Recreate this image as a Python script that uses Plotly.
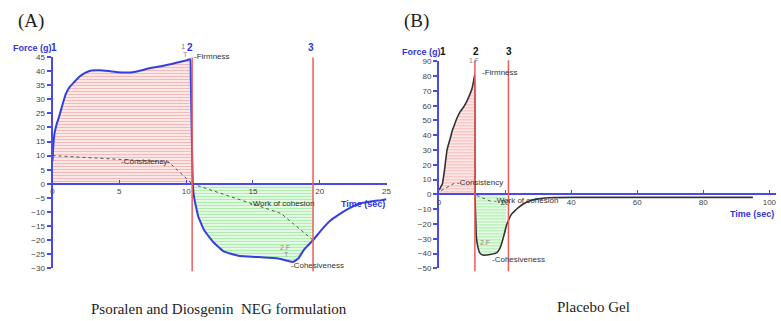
import plotly.graph_objects as go

# ---- Panel A: Psoralen and Diosgenin NEG formulation ----
A_time = [0, 0.05, 0.15, 0.3, 0.5, 0.8, 1.0, 1.3, 1.6, 2.0, 2.4, 2.9, 3.5, 4.2, 4.9,
          5.5, 6.0, 6.6, 7.4, 8.2, 8.9, 9.5, 10.0, 10.3, 10.35, 10.42, 10.5, 10.6,
          10.9, 11.35, 12.1, 12.8, 13.9, 15.4, 16.9, 17.6, 18.0, 18.4, 18.8, 19.5,
          20.1, 20.8, 21.4, 21.9, 22.5, 23.0, 23.8, 24.6, 25.0]
A_force = [8, 13, 18, 21, 24, 29, 32, 34.5, 36, 38, 39.3, 40.2, 40.3, 40, 39.6,
           39.5, 39.6, 40.2, 41.2, 41.8, 42.5, 43.2, 43.8, 44.2, 37, 18, 0, -5,
           -11.5, -16.5, -21, -24, -25.5, -26, -26.5, -27.3, -27.7, -26.5, -23.5, -20,
           -16.5, -13, -11, -9.5, -8, -7, -6.3, -5.8, -5.5]
A_events = [10.45, 19.5]                      # peak (2) and end of withdrawal (3)
A_cons_t, A_cons_f = [0, 8.7, 10.45], [10, 7.7, 0]
A_coh_t, A_coh_f = [10.45, 14.8, 17.1, 19.5], [0, -7, -10.5, -20]

# ---- Panel B: Placebo Gel ----
B_time = [0, 0.5, 1.0, 1.5, 1.9, 2.4, 3.0, 3.4, 4.0, 4.8, 5.5, 6.4, 7.4, 8.4, 9.2,
          9.9, 10.4, 10.8, 10.85, 10.9, 11.0, 11.1, 11.3, 11.8, 12.3, 13.2, 14.4,
          15.8, 17.4, 18.3, 18.9, 19.6, 20.4, 21.2, 21.9, 23.0, 24.0, 25.5, 27.3,
          30, 33, 40, 60, 80, 95]
B_force = [3, 5, 7, 14, 21, 30, 35, 38, 43, 48, 52, 56, 59, 63, 67,
           71, 76, 81, 40, 0, -10, -17, -29, -36, -39.5, -41, -41,
           -40.5, -39.5, -37, -33.5, -28, -21, -16.5, -13.5, -11, -9, -6.5, -4.4,
           -3, -2.2, -2, -2, -2, -2]
B_events = [10.85, 21]
B_cons_t, B_cons_f = [0.6, 5], [2.6, 8]
B_coh_t, B_coh_f = [11.4, 15.6], [-0.7, -4.6]

W, H = 781, 321
AXIS_BLUE = "#4a4ae8"
RED = "#f05a5a"
SANS = "Liberation Sans, Arial, sans-serif"
SERIF = "Liberation Serif, Times New Roman, serif"


def px(x):
    return x / W


def py(y):
    return 1 - y / H


def split(ts, fs, lo, hi):
    pts = [(t, f) for t, f in zip(ts, fs) if lo <= t <= hi]
    return [p[0] for p in pts], [p[1] for p in pts]


fig = go.Figure()

panels = [
    dict(x="x", y="y", t=A_time, f=A_force, ev=A_events, col="#3340dd", lw=2,
         cons=(A_cons_t, A_cons_f), coh=(A_coh_t, A_coh_f)),
    dict(x="x2", y="y2", t=B_time, f=B_force, ev=B_events, col="#333333", lw=1.6,
         cons=(B_cons_t, B_cons_f), coh=(B_coh_t, B_coh_f)),
]


def hatched(color):
    # rows of fine horizontal lines, as drawn by the texture analyser software
    return dict(shape="-", fgcolor=color, bgcolor="rgba(255,255,255,0)", size=3, solidity=0.55)


for p in panels:
    t2, t3 = p["ev"]
    rt, rf = split(p["t"], p["f"], 0, t2)
    gt, gf = split(p["t"], p["f"], t2, t3)
    fig.add_trace(go.Scatter(x=rt, y=rf, xaxis=p["x"], yaxis=p["y"], mode="lines",
                             line=dict(width=0), fill="tozeroy", fillcolor="rgba(0,0,0,0)",
                             fillpattern=hatched("#f07070"), hoverinfo="skip", showlegend=False))
    fig.add_trace(go.Scatter(x=gt, y=gf, xaxis=p["x"], yaxis=p["y"], mode="lines",
                             line=dict(width=0), fill="tozeroy", fillcolor="rgba(0,0,0,0)",
                             fillpattern=hatched("#55e055"), hoverinfo="skip", showlegend=False))
    for ct, cf in (p["cons"], p["coh"]):
        fig.add_trace(go.Scatter(x=ct, y=cf, xaxis=p["x"], yaxis=p["y"], mode="lines",
                                 line=dict(color="#555555", width=1, dash="dot"),
                                 hoverinfo="skip", showlegend=False))
    fig.add_trace(go.Scatter(x=p["t"], y=p["f"], xaxis=p["x"], yaxis=p["y"], mode="lines",
                             line=dict(color=p["col"], width=p["lw"], shape="spline", smoothing=0.3),
                             showlegend=False))

# axis placement (pixel geometry)
xa_dom = [px(51), px(388)]
ya_dom = [py(272), py(54.5)]
ya_rng = [-30, 45]
xb_dom = [px(441), 1.0]
yb_dom = [py(272), py(59)]
yb_rng = [-50, 90]


def zero_pos(dom, rng):
    return dom[0] + (0 - rng[0]) / (rng[1] - rng[0]) * (dom[1] - dom[0])


tickfont = dict(family=SANS, size=8, color="#444444")
common_x = dict(showgrid=False, zeroline=False, showline=True, linecolor=AXIS_BLUE, linewidth=2,
                ticks="inside", ticklen=3, tickcolor=AXIS_BLUE, tickfont=tickfont, anchor="free")
common_y = dict(showgrid=False, zeroline=False, showline=True, linecolor=AXIS_BLUE, linewidth=2,
                ticks="outside", ticklen=4, tickcolor=AXIS_BLUE, tickwidth=1.5, tickfont=tickfont)

fig.update_layout(
    width=W, height=H, margin=dict(l=0, r=0, t=0, b=0),
    plot_bgcolor="white", paper_bgcolor="white",
    xaxis=dict(common_x, domain=xa_dom, range=[0, 25], tickvals=[0, 5, 10, 15, 20, 25],
               position=zero_pos(ya_dom, ya_rng)),
    yaxis=dict(common_y, domain=ya_dom, range=ya_rng, tickvals=list(range(-30, 46, 5)), anchor="x"),
    xaxis2=dict(common_x, domain=xb_dom, range=[0, 102], tickvals=[0, 20, 40, 60, 80, 100],
                position=zero_pos(yb_dom, yb_rng)),
    yaxis2=dict(common_y, domain=yb_dom, range=yb_rng, tickvals=list(range(-50, 91, 10)), anchor="x2"),
)

# event lines 2 and 3
for t in A_events:
    fig.add_shape(type="line", xref="x", yref="paper", x0=t, x1=t, y0=py(275), y1=py(55),
                  line=dict(color=RED, width=1.5))
for t in B_events:
    fig.add_shape(type="line", xref="x2", yref="paper", x0=t, x1=t, y0=py(275), y1=py(58),
                  line=dict(color=RED, width=1.5))


def label(x, y, text, size=8, color="#333333", bold=False, family=SANS, xanchor="left"):
    fig.add_annotation(xref="paper", yref="paper", x=px(x), y=py(y), text=f"<b>{text}</b>" if bold else text,
                       showarrow=False, xanchor=xanchor, yanchor="middle",
                       font=dict(family=family, size=size, color=color))


# panel titles and captions
label(14, 18, "(A)", size=19, color="#222222", family=SERIF)
label(404, 18, "(B)", size=19, color="#222222", family=SERIF)
label(88, 314, "Psoralen and Diosgenin  NEG formulation", size=15, color="#222222", family=SERIF)
label(558, 312, "Placebo Gel", size=15, color="#222222", family=SERIF)

# axis titles
label(9, 45, "Force (g)", size=9, color="#3333dd", bold=True)
label(47, 45, "1", size=10, color="#3333dd", bold=True)
label(190, 45, "2", size=10, color="#3333dd", bold=True, xanchor="center")
label(312, 45, "3", size=10, color="#3333dd", bold=True, xanchor="center")
label(388, 206, "Time (sec)", size=9, color="#3333dd", bold=True, xanchor="right")

label(402, 49, "Force (g)", size=9, color="#3333dd", bold=True)
label(440, 49, "1", size=10, color="#111111", bold=True)
label(478, 49, "2", size=10, color="#111111", bold=True, xanchor="center")
label(512, 49, "3", size=10, color="#111111", bold=True, xanchor="center")
label(781, 216, "Time (sec)", size=9, color="#3333dd", bold=True, xanchor="right")

# texture analysis annotations
label(183, 44, "1", size=8, color="#888888", xanchor="center")
label(185, 52, "T", size=7, color="#888888", xanchor="center")
label(192, 54, "-Firmness", size=8)
label(118, 162, "-Consistency-", size=8)
label(248, 205, "-Work of cohesion", size=8)
label(286, 251, "2.F", size=7, color="#888888", xanchor="center")
label(287, 258, "T", size=7, color="#888888", xanchor="center")
label(290, 269, "-Cohesiveness", size=8)

label(476, 58, "1.F", size=7, color="#888888", xanchor="center")
label(482, 70, "-Firmness", size=8)
label(457, 184, "-Consistency", size=8)
label(494, 202, "-Work of cohesion", size=8)
label(487, 245, "2.F", size=7, color="#888888", xanchor="center")
label(492, 263, "-Cohesiveness", size=8)

fig.write_html("out.html")
